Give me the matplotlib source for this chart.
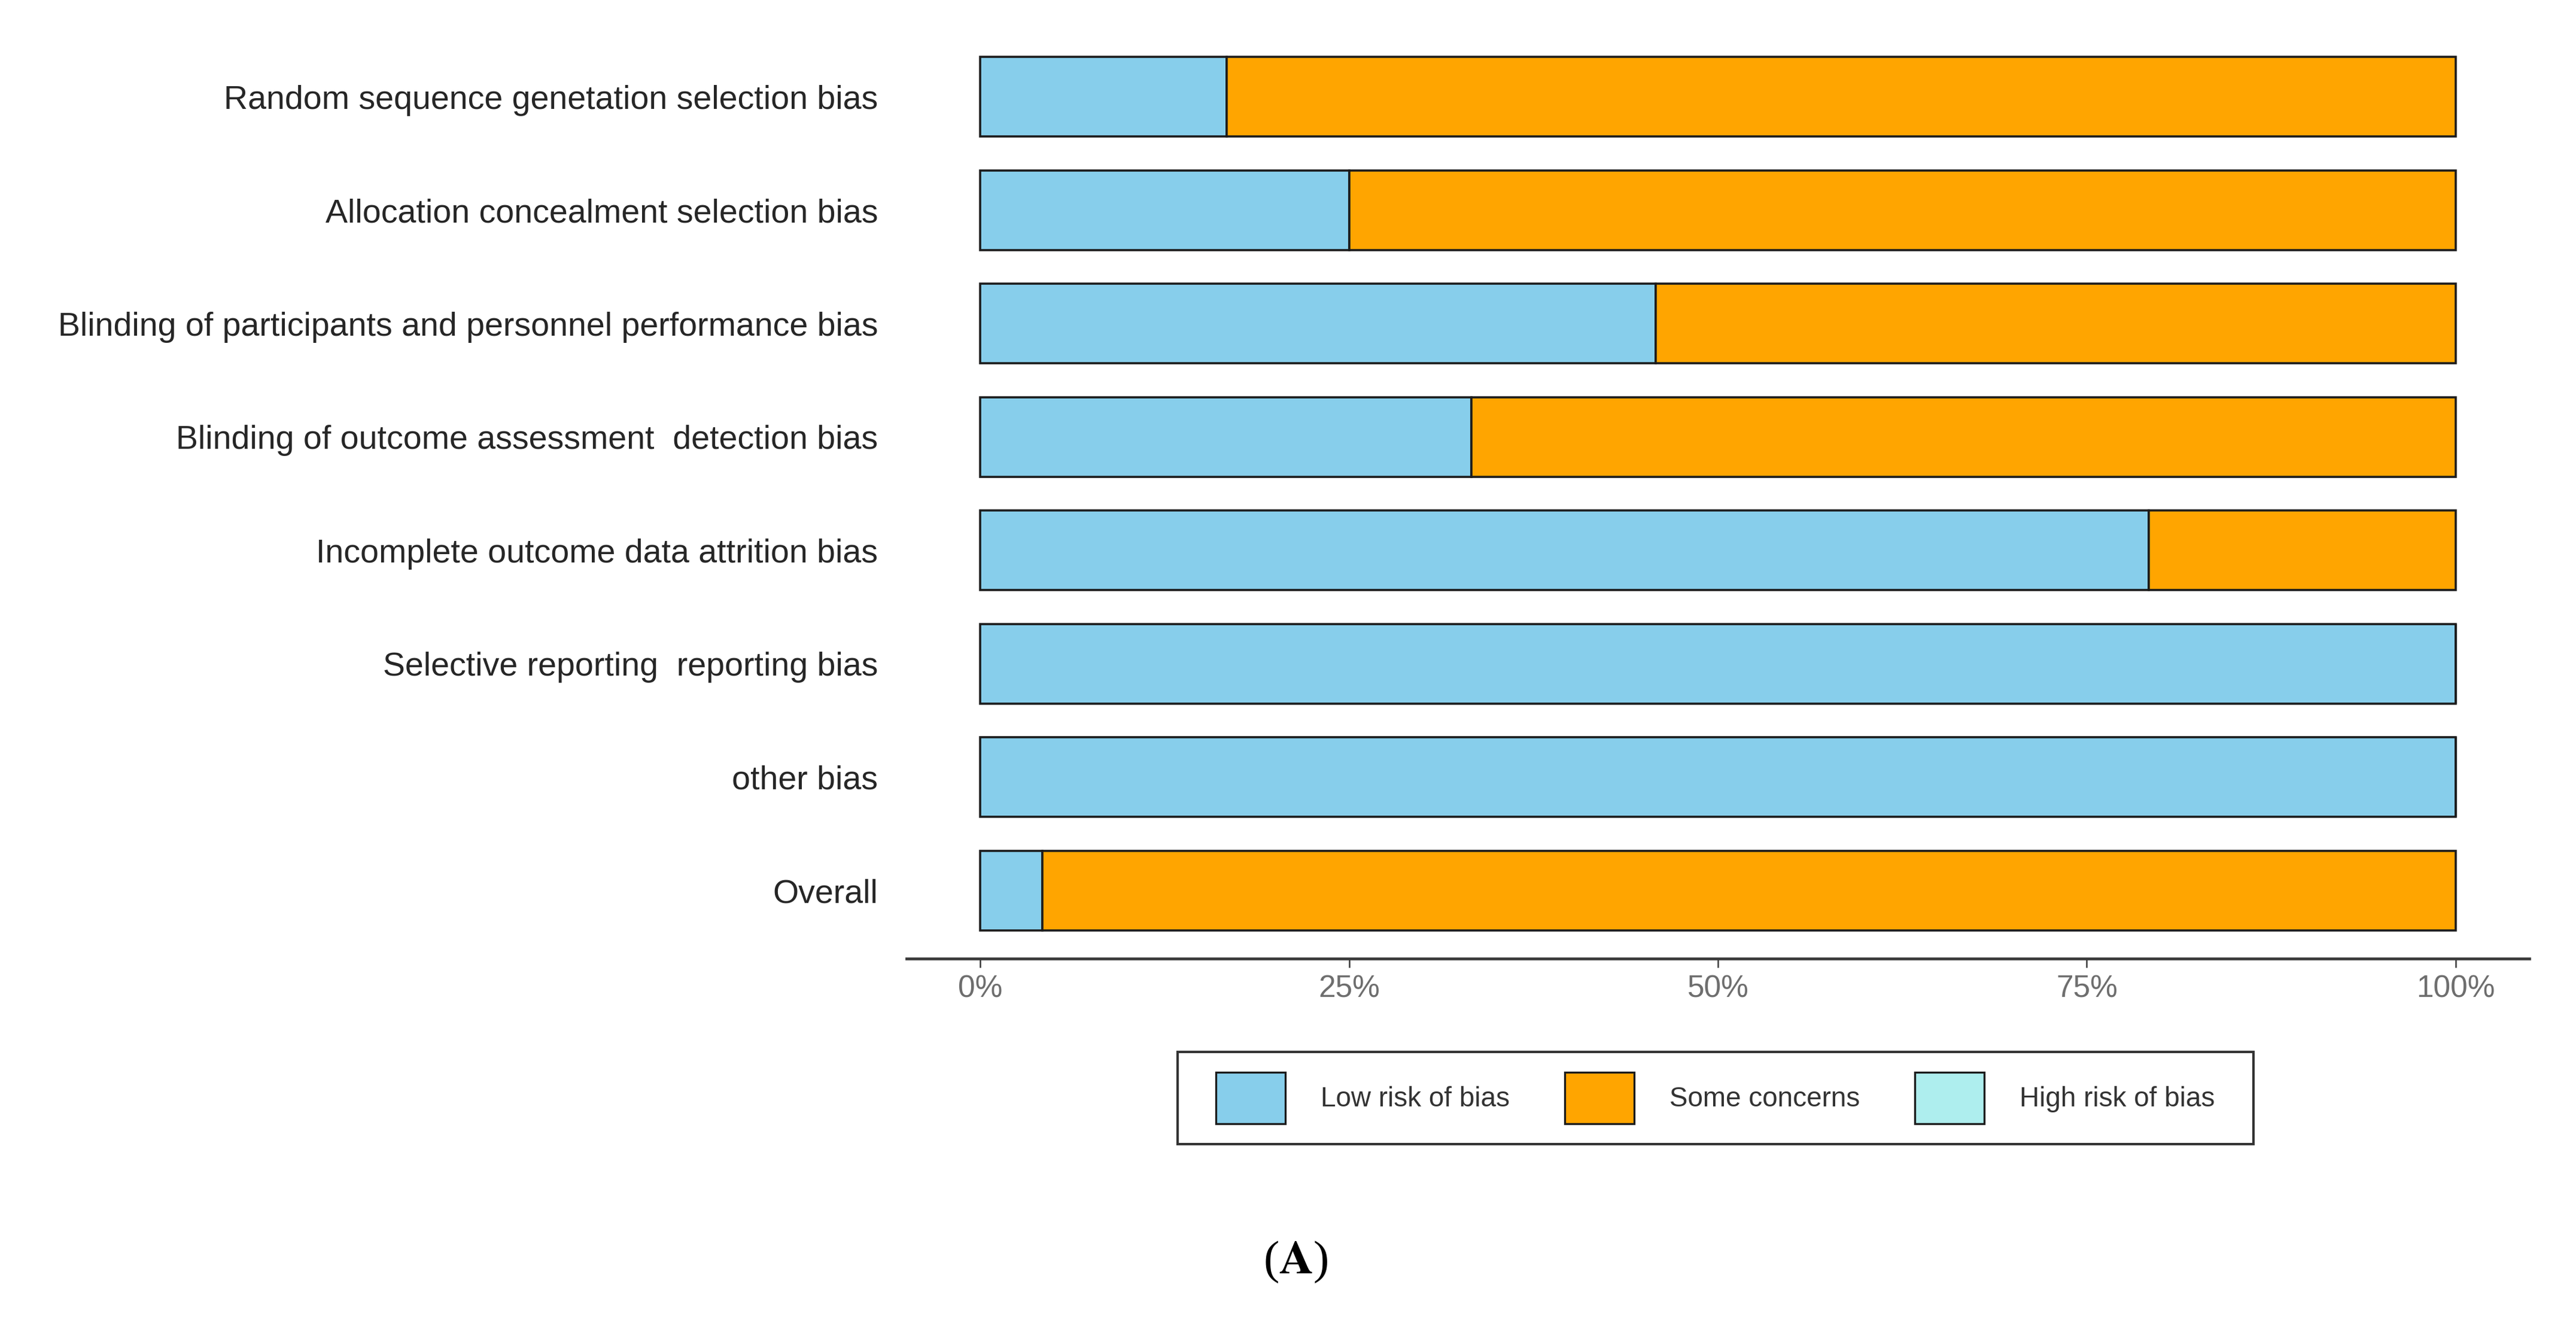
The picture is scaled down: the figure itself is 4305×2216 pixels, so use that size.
import numpy as np
import matplotlib
matplotlib.use("Agg")
import matplotlib.pyplot as plt
from matplotlib.patches import Patch, Rectangle

plt.rcParams['font.family'] = ['Liberation Sans', 'DejaVu Sans']
plt.rcParams['mathtext.fontset'] = 'stix'

# Domínios (de cima para baixo)
dominios = [
    "Random sequence genetation selection bias",
    "Allocation concealment selection bias",
    "Blinding of participants and personnel performance bias",
    "Blinding of outcome assessment  detection bias",
    "Incomplete outcome data attrition bias",
    "Selective reporting  reporting bias",
    "other bias",
    "Overall",
]

# Percentuais
baixo = [16.7, 25.0, 45.8, 33.3, 79.2, 100.0, 100.0, 4.2]
algumas = [83.3, 75.0, 54.2, 66.7, 20.8, 0.0, 0.0, 95.8]
alto = [0.0, 0.0, 0.0, 0.0, 0.0, 0.0, 0.0, 0.0]

rotulos_legenda = ["Low risk of bias", "Some concerns", "High risk of bias"]
cores = ["#87CEEB", "#FFA500", "#AEEEEE"]
ticks_x = [0, 25, 50, 75, 100]
rotulos_x = ["0%", "25%", "50%", "75%", "100%"]

fig = plt.figure(figsize=(43.05, 22.16), dpi=100)
ax = fig.add_axes([0.35192, 0.27708, 0.62996, 0.70126])

n = len(dominios)
y = np.arange(n)[::-1]
baixo = np.array(baixo)
algumas = np.array(algumas)
alto = np.array(alto)

borda = dict(edgecolor="#1c1c1c", linewidth=2.6, height=0.7)
ax.barh(y, baixo, left=0, color=cores[0], **borda)
ax.barh(y, algumas, left=baixo, color=cores[1], **borda)
mask = alto > 0
if mask.any():
    ax.barh(y[mask], alto[mask], left=(baixo + algumas)[mask], color=cores[2], **borda)

ax.set_xlim(-5, 105)
ax.set_ylim(-0.6, n - 0.4)
ax.set_yticks(y)
ax.set_yticklabels(dominios, fontsize=40, color="#262626")
ax.set_xticks(ticks_x)
ax.set_xticklabels(rotulos_x, fontsize=37, color="#6e6e6e")
ax.tick_params(axis="y", length=0, pad=34.5)
ax.tick_params(axis="x", length=10.8, width=1.8, color="#3a3a3a", pad=8)

for s in ["top", "right", "left"]:
    ax.spines[s].set_visible(False)
ax.spines["bottom"].set_linewidth(3.4)
ax.spines["bottom"].set_color("#3a3a3a")

# Legenda
handles = [Patch(facecolor=c, edgecolor="#1c1c1c", linewidth=2.4) for c in cores]
leg = fig.legend(handles, rotulos_legenda, loc="center", bbox_to_anchor=(0.66597, 0.17193),
                 ncol=3, fontsize=33, frameon=False, handlelength=2.53, handleheight=2.53,
                 handletextpad=1.29, columnspacing=2.0, borderpad=0.74)
for t in leg.get_texts():
    t.set_color("#333333")

fig.canvas.draw()
bb = leg.get_window_extent()
W, H = fig.bbox.width, fig.bbox.height
extra = 30
moldura = Rectangle(((bb.x0 - extra) / W, bb.y0 / H), (bb.width + 2 * extra) / W, bb.height / H,
                    transform=fig.transFigure, fill=False, edgecolor="#333333", linewidth=2.9)
fig.patches.append(moldura)

fig.text(0.5029, 0.0397, r"($\mathbf{A}$)", fontsize=57, family="Liberation Serif",
         ha="center", va="baseline", color="black")

fig.savefig("out.png", dpi=100, facecolor="white")
